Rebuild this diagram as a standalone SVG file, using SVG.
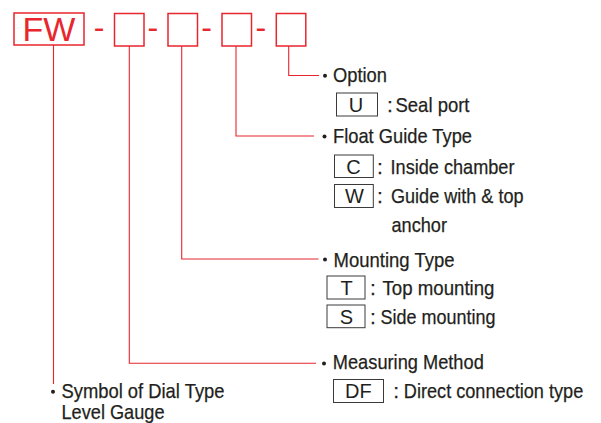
<svg xmlns="http://www.w3.org/2000/svg" width="601" height="423" viewBox="0 0 601 423">
<style>
.t{font-family:"Liberation Sans",Arial,sans-serif;font-size:21px;fill:#231f20;stroke:#231f20;stroke-width:0.25}
.k{font-family:"Liberation Sans",Arial,sans-serif;font-size:20px;fill:#231f20;text-anchor:middle}
.r{font-family:"Liberation Sans",Arial,sans-serif;fill:#e8262e}
.rb{fill:none;stroke:#e8262e;stroke-width:1.5}
.gb{fill:none;stroke:#3a3a3a;stroke-width:1}
.ln{fill:none;stroke:#e8262e;stroke-width:1.1}
.b{fill:#231f20}
</style>
<rect width="601" height="423" fill="#fff"/>
<g id="code">
<rect class="rb" x="14" y="13" width="70" height="32" stroke-width="1.2"/>
<text class="r" x="49" y="40.5" font-size="34" text-anchor="middle">FW</text>
<text class="r" x="99" y="37.8" font-size="32" text-anchor="middle">-</text>
<rect class="rb" x="114.5" y="13.5" width="29.5" height="32.5"/>
<text class="r" x="152.8" y="37.8" font-size="32" text-anchor="middle">-</text>
<rect class="rb" x="168" y="13.5" width="29.5" height="32.5"/>
<text class="r" x="206.7" y="37.8" font-size="32" text-anchor="middle">-</text>
<rect class="rb" x="222" y="13.5" width="29.5" height="32.5"/>
<text class="r" x="260.8" y="37.8" font-size="32" text-anchor="middle">-</text>
<rect class="rb" x="276.3" y="13.5" width="29.5" height="32.5"/>
</g>
<g id="connectors">
<polyline class="ln" points="53.5,45 53.5,384"/>
<polyline class="ln" points="129.3,46 129.3,363.3 316,363.3"/>
<polyline class="ln" points="181.7,46 181.7,259 318.5,259"/>
<polyline class="ln" points="236,46 236,136 314,136"/>
<polyline class="ln" points="288.7,46 288.7,75.5 319,75.5"/>
</g>
<g id="option">
<circle class="b" cx="325" cy="75.8" r="2"/>
<text class="t" x="333" y="81.5" textLength="54" lengthAdjust="spacingAndGlyphs">Option</text>
<rect class="gb" x="336.5" y="93" width="41" height="23"/>
<text class="k" x="356" y="111.7">U</text>
<text class="t" x="387" y="111.7">:</text>
<text class="t" x="395.5" y="111.7" textLength="74" lengthAdjust="spacingAndGlyphs">Seal port</text>
</g>
<g id="float-guide">
<circle class="b" cx="324.5" cy="136.5" r="2"/>
<text class="t" x="333" y="143.3" textLength="139" lengthAdjust="spacingAndGlyphs">Float Guide Type</text>
<rect class="gb" x="334.5" y="155" width="38.8" height="22.5"/>
<text class="k" x="353.5" y="174">C</text>
<text class="t" x="377" y="174">:</text>
<text class="t" x="390.5" y="174" textLength="124" lengthAdjust="spacingAndGlyphs">Inside chamber</text>
<rect class="gb" x="334.5" y="184.5" width="38.8" height="23"/>
<text class="k" x="354.5" y="203.3">W</text>
<text class="t" x="377" y="203.3">:</text>
<text class="t" x="391" y="203.3" textLength="132.5" lengthAdjust="spacingAndGlyphs">Guide with &amp; top</text>
<text class="t" x="391.5" y="232.3" textLength="55.5" lengthAdjust="spacingAndGlyphs">anchor</text>
</g>
<g id="mounting">
<circle class="b" cx="325" cy="259.5" r="2"/>
<text class="t" x="333.5" y="266.7" textLength="121" lengthAdjust="spacingAndGlyphs">Mounting Type</text>
<rect class="gb" x="327" y="276" width="38" height="23"/>
<text class="k" x="346.5" y="295">T</text>
<text class="t" x="370" y="295">:</text>
<text class="t" x="382.5" y="295" textLength="112" lengthAdjust="spacingAndGlyphs">Top mounting</text>
<rect class="gb" x="327" y="305" width="38" height="22.7"/>
<text class="k" x="346.5" y="324">S</text>
<text class="t" x="370" y="324">:</text>
<text class="t" x="380.5" y="324" textLength="115" lengthAdjust="spacingAndGlyphs">Side mounting</text>
</g>
<g id="measuring">
<circle class="b" cx="324" cy="363.5" r="2"/>
<text class="t" x="332.8" y="369.3" textLength="151" lengthAdjust="spacingAndGlyphs">Measuring Method</text>
<rect class="gb" x="333.5" y="379.5" width="50" height="23"/>
<text class="k" x="358.3" y="398.3">DF</text>
<text class="t" x="393.3" y="398.3">:</text>
<text class="t" x="403.8" y="398.3" font-size="18.5" textLength="179.5" lengthAdjust="spacingAndGlyphs">Direct connection type</text>
</g>
<g id="symbol">
<circle class="b" cx="53" cy="391.7" r="2"/>
<text class="t" x="61.5" y="397.7" textLength="163" lengthAdjust="spacingAndGlyphs">Symbol of Dial Type</text>
<text class="t" x="61.5" y="419" textLength="103" lengthAdjust="spacingAndGlyphs">Level Gauge</text>
</g>
</svg>
